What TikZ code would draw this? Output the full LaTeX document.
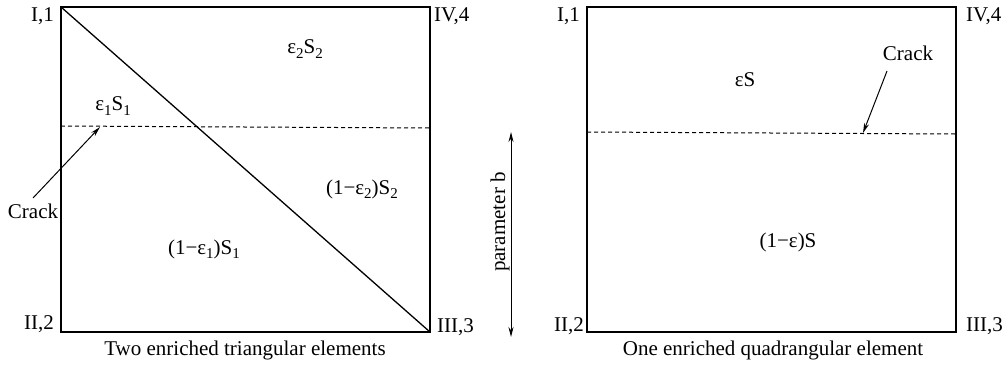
\documentclass[tikz,border=0pt]{standalone}
\usepackage{fontspec}
\setmainfont{Liberation Serif}
\usetikzlibrary{arrows.meta}
\newcommand\sbx[1]{\raisebox{-0.45ex}{\fontsize{15}{15}\selectfont #1}}
\begin{document}
\begin{tikzpicture}[x=1pt,y=-1pt,
  every node/.style={font=\fontsize{21}{23}\selectfont, inner sep=0pt},
  edge/.style={line width=1.3pt},
  crackline/.style={line width=1pt, dash pattern=on 4pt off 3pt},
  pointer/.style={line width=1pt, -{Stealth[length=10pt,width=5pt]}},
  dimarrow/.style={line width=1pt, {Stealth[length=10pt,width=5pt]}-{Stealth[length=10pt,width=5pt]}}]
\useasboundingbox (0,0) rectangle (1008,365);
% left element
\coordinate (A1) at (61,7);
\coordinate (A2) at (61,332);
\coordinate (A3) at (430,332);
\coordinate (A4) at (430,7);
\draw[edge] (A1) -- (A2) -- (A3) -- (A4) -- cycle;
\draw[edge] (A1) -- (A3);
\coordinate (LcL) at (61,126);
\coordinate (LcR) at (430,128);
\draw[crackline] (LcL) -- (LcR);
\coordinate (LcTip) at (100,127);
\node (lI) [anchor=east] at (54,16) {I,1};
\node (lII) [anchor=east] at (54,324) {II,2};
\node (lIV) [anchor=west] at (434,16) {IV,4};
\node (lIII) [anchor=west] at (437,327) {III,3};
\node (e2) at (305,49) {ε\sbx{2}S\sbx{2}};
\node (e1) at (113,106) {ε\sbx{1}S\sbx{1}};
\node (me2) at (362,189) {(1−ε\sbx{2})S\sbx{2}};
\node (me1) at (204,249) {(1−ε\sbx{1})S\sbx{1}};
\node (crackL) at (33,211) {Crack};
\coordinate (cLs) at (33,198);
\draw[pointer] (cLs) -- (LcTip);
\node (capL) at (245,350) {Two enriched triangular elements};
% parameter b
\coordinate (pbT) at (511,132);
\coordinate (pbB) at (511,337);
\draw[dimarrow] (pbT) -- (pbB);
\node (pb) [rotate=90] at (500,222) {parameter b};
% right element
\coordinate (B1) at (587,7);
\coordinate (B2) at (587,332);
\coordinate (B3) at (956,332);
\coordinate (B4) at (956,7);
\draw[edge] (B1) -- (B2) -- (B3) -- (B4) -- cycle;
\coordinate (RcL) at (587,132);
\coordinate (RcR) at (956,134);
\draw[crackline] (RcL) -- (RcR);
\coordinate (RcTip) at (863,133);
\node (rI) [anchor=east] at (580,16) {I,1};
\node (rII) [anchor=east] at (584,326) {II,2};
\node (rIV) [anchor=west] at (966,16) {IV,4};
\node (rIII) [anchor=west] at (966,326) {III,3};
\node (eS) at (745,80) {εS};
\node (meS) at (788,242) {(1−ε)S};
\node (crackR) at (908,53) {Crack};
\coordinate (cRs) at (887,71);
\draw[pointer] (cRs) -- (RcTip);
\node (capR) at (773,350) {One enriched quadrangular element};
\end{tikzpicture}
\end{document}
